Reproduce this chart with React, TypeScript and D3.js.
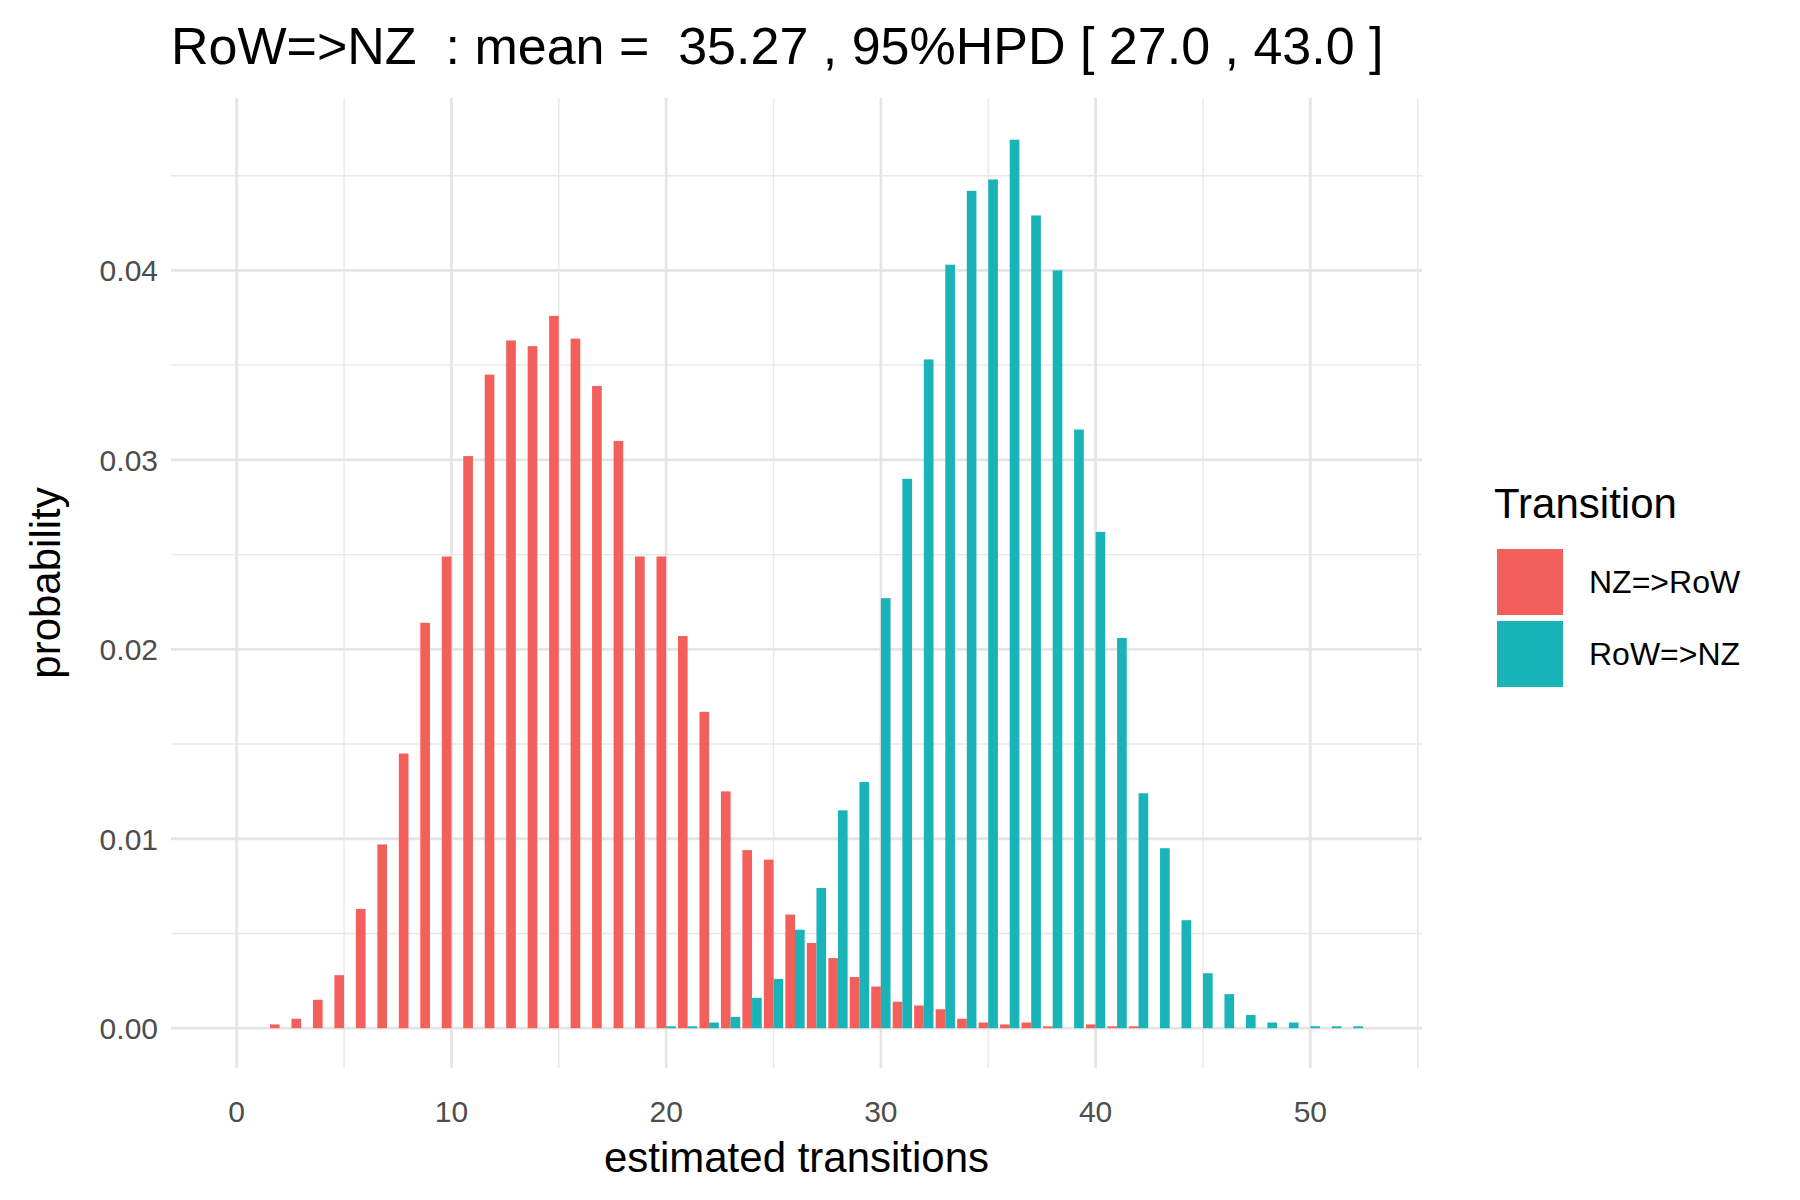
import React from "react";
import * as d3 from "d3";

const redX = [2, 3, 4, 5, 6, 7, 8, 9, 10, 11, 12, 13, 14, 15, 16, 17, 18, 19, 20, 21, 22, 23, 24, 25, 26, 27, 28, 29, 30, 31, 32, 33, 34, 35, 36, 37, 38, 40, 41, 42];
const redY = [0.0002, 0.0005, 0.0015, 0.0028, 0.0063, 0.0097, 0.0145, 0.0214, 0.0249, 0.0302, 0.0345, 0.0363, 0.036, 0.0376, 0.0364, 0.0339, 0.031, 0.0249, 0.0249, 0.0207, 0.0167, 0.0125, 0.0094, 0.0089, 0.006, 0.0045, 0.0037, 0.0027, 0.0022, 0.0014, 0.0012, 0.001, 0.0005, 0.0003, 0.0002, 0.0003, 0.0001, 0.0002, 0.0001, 0.0001];
const tealX = [20, 21, 22, 23, 24, 25, 26, 27, 28, 29, 30, 31, 32, 33, 34, 35, 36, 37, 38, 39, 40, 41, 42, 43, 44, 45, 46, 47, 48, 49, 50, 51, 52];
const tealY = [0.0001, 0.0001, 0.0003, 0.0006, 0.0016, 0.0026, 0.0052, 0.0074, 0.0115, 0.013, 0.0227, 0.029, 0.0353, 0.0403, 0.0442, 0.0448, 0.0469, 0.0429, 0.04, 0.0316, 0.0262, 0.0206, 0.0124, 0.0095, 0.0057, 0.0029, 0.0018, 0.0007, 0.0003, 0.0003, 0.0001, 0.0001, 0.0001];
const xTicks = [0, 10, 20, 30, 40, 50];
const yTicks = [0, 0.01, 0.02, 0.03, 0.04];
const xMinor = [5, 15, 25, 35, 45, 55];
const yMinor = [0.005, 0.015, 0.025, 0.035, 0.045];
const series = [
  { name: "NZ=>RoW", color: "#F35F5B", xs: redX, ys: redY, off: -0.225 },
  { name: "RoW=>NZ", color: "#18B4B8", xs: tealX, ys: tealY, off: 0.225 },
];

const L = 171, R = 1422, T = 98, B = 1068;
const font = "'Liberation Sans', Arial, sans-serif";

export default function App() {
  const x = d3.scaleLinear().domain([-3.06, 55.2]).range([L, R]);
  const y = d3.scaleLinear().domain([-0.0021, 0.0491]).range([B, T]);
  const bw = x(0.45) - x(0);
  return (
    <svg width={1800} height={1200} style={{ position: "absolute", left: 0, top: 0, background: "#fff" }} fontFamily={font}>
      {xMinor.map((v) => <line key={"xm" + v} x1={x(v)} x2={x(v)} y1={T} y2={B} stroke="#e8e8e8" strokeWidth={1.4} />)}
      {yMinor.map((v) => <line key={"ym" + v} x1={L} x2={R} y1={y(v)} y2={y(v)} stroke="#e8e8e8" strokeWidth={1.4} />)}
      {xTicks.map((v) => <line key={"x" + v} x1={x(v)} x2={x(v)} y1={T} y2={B} stroke="#e5e5e5" strokeWidth={2.8} />)}
      {yTicks.map((v) => <line key={"y" + v} x1={L} x2={R} y1={y(v)} y2={y(v)} stroke="#e5e5e5" strokeWidth={2.8} />)}
      {series.map((s) =>
        s.xs.map((xv, i) => (
          <rect key={s.name + xv} x={x(xv + s.off) - bw / 2} width={bw} y={y(s.ys[i])} height={y(0) - y(s.ys[i])} fill={s.color} />
        ))
      )}
      {xTicks.map((v) => <text key={"xt" + v} x={x(v)} y={1122} fontSize={30} fill="#4d4d4d" textAnchor="middle">{v}</text>)}
      {yTicks.map((v) => <text key={"yt" + v} x={158} y={y(v) + 11} fontSize={30} fill="#4d4d4d" textAnchor="end">{v.toFixed(2)}</text>)}
      <text x={(L + R) / 2} y={1172} fontSize={42} textAnchor="middle">estimated transitions</text>
      <text transform={`translate(60,${(T + B) / 2}) rotate(-90)`} fontSize={42} textAnchor="middle">probability</text>
      <text x={171} y={64} fontSize={52} style={{ whiteSpace: "pre" }}>RoW=&gt;NZ  : mean =  35.27 , 95%HPD [ 27.0 , 43.0 ]</text>
      <text x={1494} y={518} fontSize={42}>Transition</text>
      {series.map((s, i) => (
        <g key={"lg" + s.name} transform={`translate(1497,${549 + i * 72})`}>
          <rect width={66} height={66} fill={s.color} />
          <text x={92} y={44} fontSize={32}>{s.name}</text>
        </g>
      ))}
    </svg>
  );
}
